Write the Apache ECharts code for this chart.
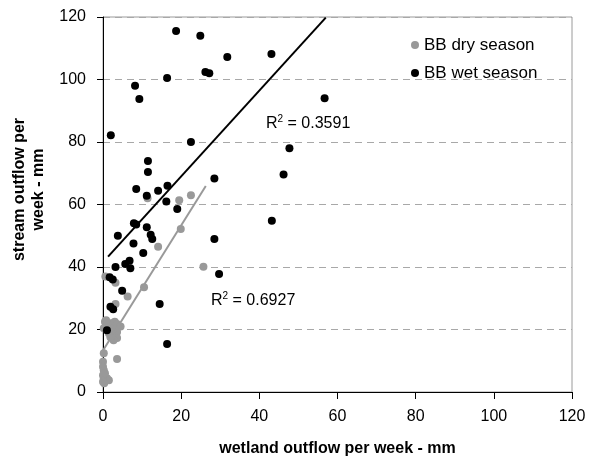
<!DOCTYPE html>
<html>
<head>
<meta charset="utf-8">
<script src="https://cdn.jsdelivr.net/npm/echarts@6/dist/echarts.min.js"></script>
<style>
html,body{margin:0;padding:0;background:#fff;}
#c{width:590px;height:464px;}
</style>
</head>
<body>
<div id="c"></div>
<script>
// Data
var xTicks = [0, 20, 40, 60, 80, 100, 120];
var yTicks = [0, 20, 40, 60, 80, 100, 120];
var seriesNames = ['BB dry season', 'BB wet season'];

var dryData = [
  [0.6, 37], [3.2, 35], [6.3, 30.6], [3.2, 28.2], [10.5, 33.5], [14.1, 46.5],
  [11.4, 62], [19.5, 61.4], [22.5, 63], [19.9, 52.2], [25.7, 40.1],
  [0.5, 22.5], [1.2, 21.5], [2.0, 22], [3.0, 22.5], [3.6, 21.8], [4.5, 21],
  [0.8, 23], [2.5, 20], [0.2, 20.4], [3.6, 19.2], [3.2, 18.2], [3.6, 17.3],
  [2.7, 16.6], [1.9, 17.5], [1.5, 18.8], [0.2, 12.4], [3.6, 10.6], [0, 9.7],
  [0, 8.1], [0.2, 7], [0, 5.4], [0.2, 4.4], [1.0, 4.4], [1.5, 3.8], [0, 3.3],
  [0.5, 6], [0.3, 2.8]
];

var wetData = [
  [18.7, 115.5], [24.9, 114], [31.8, 107.2], [43.1, 108.2], [26.2, 102.4],
  [27.2, 102], [16.4, 100.5], [8.2, 98], [9.3, 93.8], [56.7, 94], [2.0, 82.2],
  [22.5, 80], [47.7, 78], [46.2, 69.6], [28.5, 68.3], [11.5, 73.9], [11.5, 70.4],
  [8.5, 65], [11.2, 62.8], [14.1, 64.4], [16.5, 66], [16.2, 61], [19, 58.6],
  [43.2, 54.8], [28.5, 49], [29.7, 37.8], [14.5, 28.2], [16.4, 15.4],
  [7.9, 54], [8.5, 53.6], [11.2, 52.7], [12.2, 50.3], [12.6, 49], [3.8, 50],
  [7.8, 47.5], [10.3, 44.5], [5.7, 41], [6.8, 42], [7.0, 39.6], [3.2, 40],
  [1.7, 36.7], [2.5, 36], [4.9, 32.4], [1.9, 27.3], [2.6, 26.5], [1.0, 19.8]
];

// Trendline end points
var dryTrend = [[0, 13.3], [26.3, 65.9]];
var wetTrend = [[1.3, 43.3], [57, 119.8]];
var r2Labels = ['0.6927', '0.3591'];

var FONT = 'Liberation Sans, Arial, sans-serif';
var chart = echarts.init(document.getElementById('c'), null, {renderer: 'canvas'});

var option = {
  backgroundColor: '#fff',
  animation: false,
  grid: {
    left: 103, right: 18, top: 17, bottom: 72,
    show: true, borderColor: '#9a9a9a', borderWidth: 1
  },
  legend: {
    data: seriesNames,
    orient: 'vertical',
    left: 406, top: 31,
    icon: 'circle',
    itemWidth: 8, itemHeight: 8,
    itemGap: 10,
    textStyle: {fontFamily: FONT, fontSize: 17, color: '#000', lineHeight: 18}
  },
  xAxis: {
    type: 'value', min: 0, max: 120, interval: 20,
    name: 'wetland outflow per week - mm',
    nameLocation: 'middle', nameGap: 49,
    nameTextStyle: {fontFamily: FONT, fontSize: 16, fontWeight: 'bold', color: '#000'},
    axisLine: {show: true, onZero: false, lineStyle: {color: '#000', width: 1}},
    axisTick: {show: true, inside: false, length: 7, lineStyle: {color: '#000'}},
    axisLabel: {
      fontFamily: FONT, fontSize: 16, color: '#000', margin: 17,
      formatter: function (v) { return xTicks.indexOf(v) >= 0 ? String(v) : ''; }
    },
    splitLine: {show: false}
  },
  yAxis: {
    type: 'value', min: 0, max: 120, interval: 20,
    name: 'stream outflow per\nweek - mm',
    nameLocation: 'middle', nameGap: 55, nameRotate: 90,
    nameTextStyle: {fontFamily: FONT, fontSize: 16, fontWeight: 'bold', color: '#000', lineHeight: 19, align: 'center', padding: [0, 0, 0, 30]},
    axisLine: {show: true, onZero: false, lineStyle: {color: '#000', width: 1}},
    axisTick: {show: true, inside: false, length: 6, lineStyle: {color: '#000'}},
    axisLabel: {
      fontFamily: FONT, fontSize: 16, color: '#000', margin: 17,
      formatter: function (v) { return yTicks.indexOf(v) >= 0 ? String(v) : ''; }
    },
    splitLine: {show: true, lineStyle: {color: '#a8a8a8', type: [7, 5], width: 1}}
  },
  series: [
    {
      name: seriesNames[0], type: 'scatter', data: dryData,
      symbol: 'circle', symbolSize: 8,
      itemStyle: {color: '#999999', opacity: 1}, z: 2
    },
    {
      name: seriesNames[1], type: 'scatter', data: wetData,
      symbol: 'circle', symbolSize: 8,
      itemStyle: {color: '#000000', opacity: 1}, z: 3
    },
    {
      name: 'dry trend', type: 'line', data: dryTrend, showSymbol: false, symbol: 'none',
      lineStyle: {color: '#999999', width: 2}, z: 4, silent: true
    },
    {
      name: 'wet trend', type: 'line', data: wetTrend, showSymbol: false, symbol: 'none',
      lineStyle: {color: '#000', width: 2}, z: 5, silent: true
    }
  ],
  graphic: [
    {
      type: 'text', left: 266, top: 114, z: 10,
      style: {
        text: '{a|R}{b|2}{a| = ' + r2Labels[1] + '}',
        rich: {
          a: {fontFamily: FONT, fontSize: 16, color: '#000', lineHeight: 20},
          b: {fontFamily: FONT, fontSize: 10, color: '#000', verticalAlign: 'top', lineHeight: 20}
        }
      }
    },
    {
      type: 'text', left: 211, top: 291, z: 10,
      style: {
        text: '{a|R}{b|2}{a| = ' + r2Labels[0] + '}',
        rich: {
          a: {fontFamily: FONT, fontSize: 16, color: '#000', lineHeight: 20},
          b: {fontFamily: FONT, fontSize: 10, color: '#000', verticalAlign: 'top', lineHeight: 20}
        }
      }
    }
  ]
};
chart.setOption(option);
</script>
</body>
</html>
